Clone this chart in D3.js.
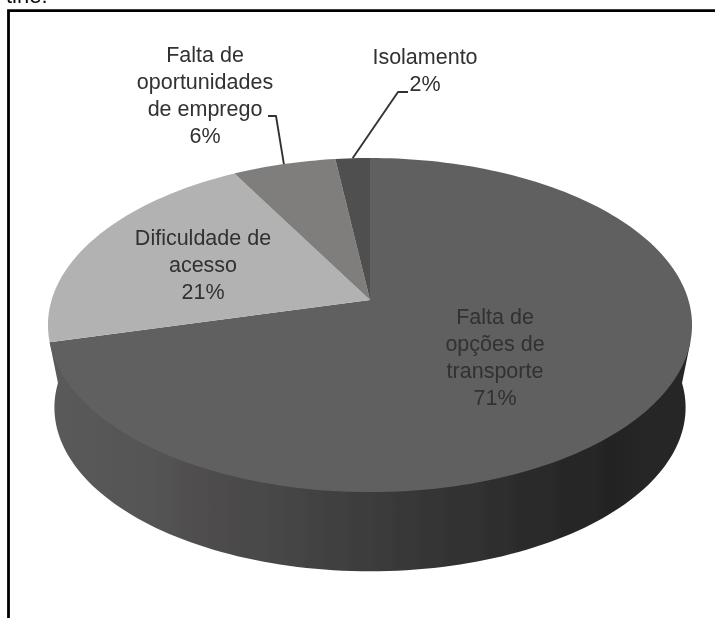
<!DOCTYPE html>
<html>
<head>
<meta charset="utf-8">
<title>Pie</title>
<script src="https://cdn.jsdelivr.net/npm/d3@7"></script>
<style>
    html, body { margin: 0; padding: 0; background: #fff; overflow: hidden; }
    svg { display: block; }
    text { font-family: "Liberation Sans", Arial, sans-serif; }
</style>
</head>
<body>
<svg id="chart" width="715" height="618"></svg>
<script>
var categories = ['Falta de opções de transporte', 'Dificuldade de acesso', 'Falta de oportunidades de emprego', 'Isolamento'];
var values = [71, 21, 6, 2];
var label_lines = [
    ['Falta de', 'opções de', 'transporte', '71%'],
    ['Dificuldade de', 'acesso', '21%'],
    ['Falta de', 'oportunidades', 'de emprego', '6%'],
    ['Isolamento', '2%']
];
var slice_colors = ['#606060', '#b2b2b2', '#7f7e7c', '#505050'];
var wall_shades = ['#5a5a5a', '#565656', '#4e4c4c', '#454545', '#3c3c3c', '#333333', '#2b2b2b', '#242424', '#262626'];

var width = 715, height = 618;
var CX = 370, CY = 300;
var RX = 318.4, RY = 163.3;
var PERSPECTIVE = 0.15;    // near side of the pie is drawn bigger
var WALL_DROP = 83, WALL_SCALE = 0.98;

var svg = d3.select('#chart');
var defs = svg.append('defs');

defs.append('filter').attr('id', 'soft')
    .attr('x', '-5%').attr('y', '-5%').attr('width', '110%').attr('height', '110%')
    .append('feGaussianBlur').attr('stdDeviation', 0.65);

var wall_x = d3.scaleLinear().domain([0, wall_shades.length - 1]).range([55, 686]);
defs.append('linearGradient').attr('id', 'wall')
    .attr('gradientUnits', 'userSpaceOnUse')
    .attr('x1', wall_x(0)).attr('x2', wall_x(wall_shades.length - 1))
    .attr('y1', 0).attr('y2', 0)
    .selectAll('stop').data(wall_shades).enter().append('stop')
    .attr('offset', function(d, i) { return i / (wall_shades.length - 1); })
    .attr('stop-color', function(d) { return d; });

// Project an angle of the pie (0 at the top, clockwise) on the tilted disc.
function project(angle, radius, drop, scale) {
    var x = Math.sin(angle) * radius, y = -Math.cos(angle) * radius;
    var w = 1 - PERSPECTIVE * y;
    return [CX + scale * RX * x / w, CY + drop + scale * RY * y / w];
}

function arc_points(start, end, drop, scale) {
    var n = Math.max(2, Math.ceil(Math.abs(end - start) * 40));
    return d3.range(n + 1).map(function(i) {
        return project(start + (end - start) * i / n, 1, drop, scale);
    });
}

var line = d3.line();
var pie = d3.pie().sort(null).value(function(d) { return d; });
var slices = pie(values);

var page = svg.append('g').attr('filter', 'url(#soft)');

// side wall, from the left end of the disc round the front to the right end
var wall = arc_points(Math.PI * 1.5, Math.PI * 0.5, WALL_DROP, WALL_SCALE);
wall.unshift(project(Math.PI * 1.42, 1, 0, 1));
wall.push(project(Math.PI * 0.58, 1, 0, 1));
page.append('path')
    .attr('d', line(wall) + 'Z')
    .attr('fill', 'url(#wall)');

page.selectAll('path.slice').data(slices).enter().append('path')
    .attr('class', 'slice')
    .attr('d', function(d) {
        return line([[CX, CY]].concat(arc_points(d.startAngle, d.endAngle, 0, 1))) + 'Z';
    })
    .attr('fill', function(d, i) { return slice_colors[i]; });

// leader lines for the two small slices
function leader(index, x, y, elbow_x) {
    var s = slices[index];
    var end = project((s.startAngle + s.endAngle) / 2, 1, 0, 1);
    page.append('path')
        .attr('d', line([[x, y], [elbow_x, y], end]))
        .attr('fill', 'none')
        .attr('stroke', '#333')
        .attr('stroke-width', 1.9)
        .attr('stroke-linejoin', 'round');
}
leader(2, 268, 116, 276);
leader(3, 408, 92, 398);

var label_pos = [[495, 324], [203, 245], [205, 62], [425, 64]];
var LINE_HEIGHT = 27;

label_lines.forEach(function(lines, i) {
    page.append('text')
        .attr('text-anchor', 'middle')
        .attr('font-size', 21.5)
        .attr('fill', '#303030')
        .selectAll('tspan').data(lines).enter().append('tspan')
        .attr('x', label_pos[i][0])
        .attr('y', function(d, j) { return label_pos[i][1] + j * LINE_HEIGHT; })
        .text(function(d) { return d; });
});

// frame around the chart and the cut off caption above it
page.append('path')
    .attr('d', line([[8.5, height], [8.5, 10.7], [width, 10.7]]))
    .attr('fill', 'none')
    .attr('stroke', '#000')
    .attr('stroke-width', 2.8);

page.append('text')
    .attr('x', 6).attr('y', 2.5)
    .attr('font-size', 22)
    .attr('fill', '#111')
    .text('tine:');
</script>
</body>
</html>
